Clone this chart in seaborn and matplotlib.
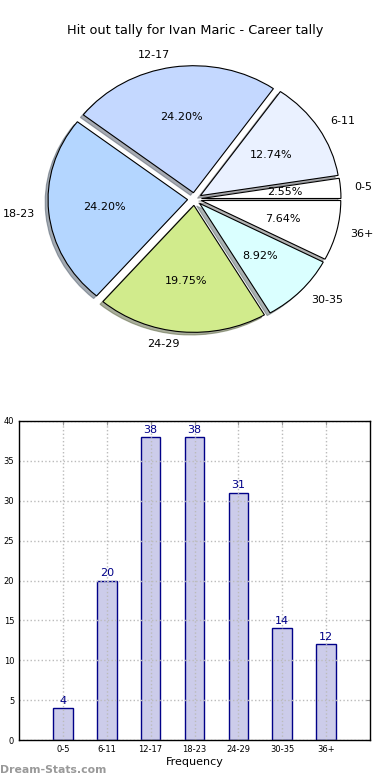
import matplotlib
matplotlib.use("Agg")
import matplotlib.pyplot as plt
import seaborn as sns
import pandas as pd

categories = ["0-5", "6-11", "12-17", "18-23", "24-29", "30-35", "36+"]
counts = [4, 20, 38, 38, 31, 14, 12]
pie_colors = ["#ffffff", "#eaf1ff", "#c4d8ff", "#b4d6ff", "#d1eb8c", "#daffff", "#ffffff"]
title = "Hit out tally for Ivan Maric - Career tally"

sns.set_style("white")
plt.rcParams['font.family'] = ['DejaVu Sans']
plt.rcParams['text.color'] = 'black'
plt.rcParams['axes.labelcolor'] = 'black'

fig = plt.figure(figsize=(3.9, 7.8), dpi=100)

# ---- Pie ----
W, H = 390.0, 780.0
cx, cy = 194.5, 199.0
rx, ry = 139.5, 127.0
top_px, bot_px = 40.0, 370.0
ax1 = fig.add_axes([0, 1 - bot_px / H, 1, (bot_px - top_px) / H])
ax1.pie(counts, labels=categories, colors=pie_colors, autopct="%1.2f%%",
        startangle=0, counterclock=True, explode=[0.05] * len(counts),
        shadow=dict(ox=-0.015, oy=-0.015, shade=0.6), labeldistance=1.1, pctdistance=0.6,
        wedgeprops=dict(edgecolor="black", linewidth=0.8),
        textprops=dict(fontsize=8, color="black"))
ax1.set_aspect("auto")
ax1.set_xlim(-cx / rx, (W - cx) / rx)
ax1.set_ylim(-(bot_px - cy) / ry, (cy - top_px) / ry)
ax1.axis("off")

fig.text(0.5, 1 - 30.5 / H, title, ha="center", va="center", fontsize=9.3, color="black")

# ---- Bar ----
df = pd.DataFrame({"cat": categories, "n": counts})
ax2 = fig.add_axes([19 / W, 40 / H, 351 / W, 319 / H])
sns.barplot(data=df, x="cat", y="n", ax=ax2, width=0.45, color="#ccccea",
            saturation=1, edgecolor="#000088", linewidth=1)
for p in ax2.patches:
    p.set_facecolor("#ccccea")
ax2.set_xlim(-1, 7)
ax2.set_ylim(0, 40)
ax2.set_yticks(range(0, 41, 5))
ax2.set_axisbelow(False)
ax2.grid(True, linestyle=":", color="#bbbbbb", linewidth=1)
ax2.tick_params(axis="both", labelsize=6, direction="in", length=3, color="#999999",
                labelcolor="black", top=True, right=True)
for s in ax2.spines.values():
    s.set_color("black")
    s.set_linewidth(1)
    s.set_zorder(4)
ax2.set_xlabel("Frequency", fontsize=8, labelpad=2, color="black")
ax2.set_ylabel("")
for i, v in enumerate(counts):
    ax2.text(i, v + 0.3, str(v), ha="center", va="bottom", fontsize=8, color="#000088")

fig.text(0.0, 1 - 770 / H, "Dream-Stats.com", ha="left", va="center",
         fontsize=7.8, color="#999999", fontweight="bold")

fig.savefig("out.png", dpi=100)
